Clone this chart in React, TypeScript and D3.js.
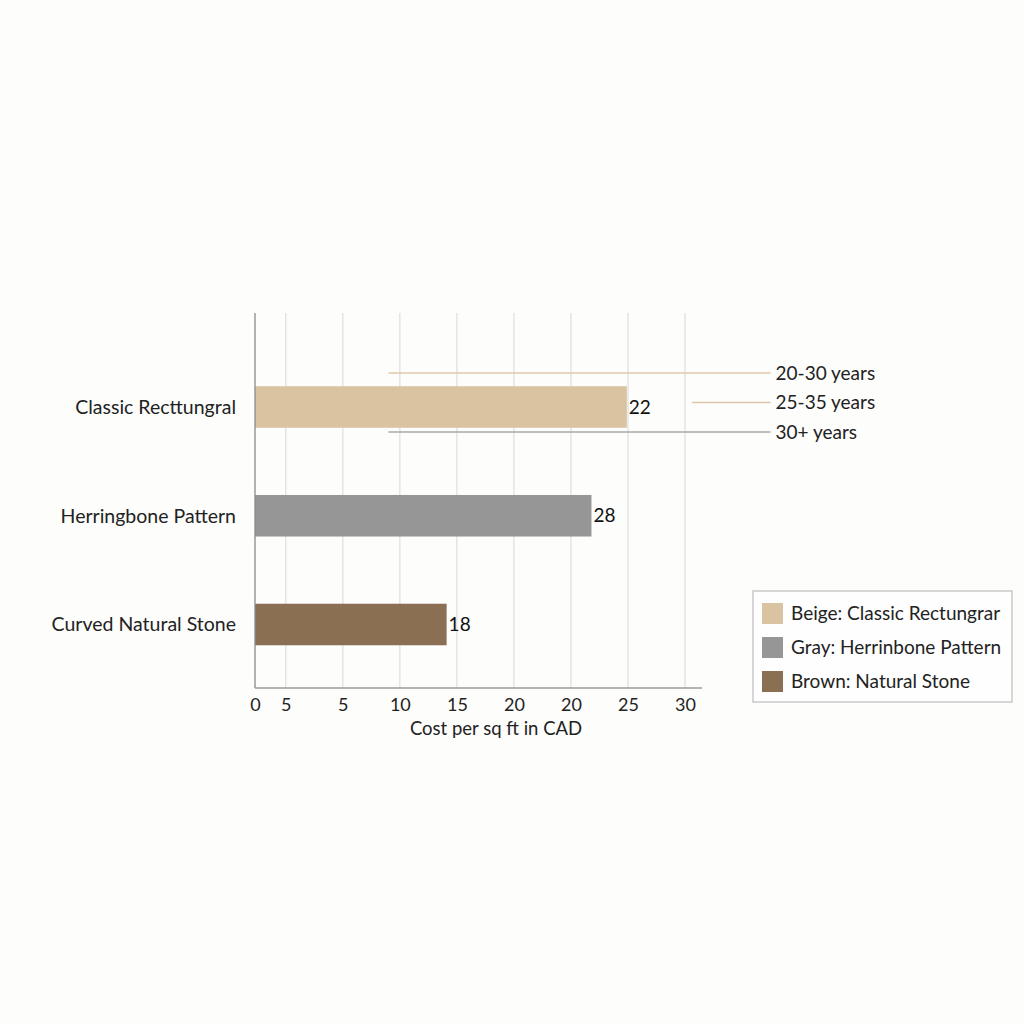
import * as d3 from "d3";
import React, { useRef, useEffect } from 'react'

// categories, bar lengths (axis units) and the printed value labels
const categories = ["Classic Recttungral", "Herringbone Pattern", "Curved Natural Stone"]
const barLengths = [32.6, 29.5, 16.8]
const barLabels = ["22", "28", "18"]
const barColors = ["#d9c3a1", "#969696", "#8b6f53"]

// axis ticks as printed on the picture
const tickValues = [0, 2.7, 7.7, 12.7, 17.7, 22.7, 27.7, 32.7, 37.7]
const tickLabels = ["0", "5", "5", "10", "15", "20", "20", "25", "30"]

// lifespan annotation lines: start/end in axis units
const spanLabels = ["20-30 years", "25-35 years", "30+ years"]
const spanStarts = [11.7, 38.3, 11.7]
const spanEnds = [45.2, 45.2, 45.2]
const spanColors = ["#dcc8a8", "#dcc8a8", "#a8a8a8"]

const legendLabels = ["Beige: Classic Rectungrar", "Gray: Herrinbone Pattern", "Brown: Natural Stone"]

const W = 1024, H = 1024
const m = { l: 255, r: 685, t: 313, b: 688 }
const FONT = "Lato, 'Open Sans', sans-serif"

const App: React.FC = () => {
  const gx = useRef<SVGGElement>(null)

  const x = d3.scaleLinear([0, 37.7], [m.l, m.r])
  const y = d3.scaleBand(categories, [353.6, 677.9]).paddingInner(0.618).paddingOuter(0.3)
  const spanY = d3.scalePoint(spanLabels, [373, 432])

  useEffect(() => {
    if (!gx.current) return
    const g = d3.select(gx.current)
    g.call(d3.axisBottom(x).tickValues(tickValues).tickSize(0).tickPadding(10)
      .tickFormat((_, i) => tickLabels[i]))
    g.select(".domain").remove()
    g.selectAll("text").attr("font-family", FONT).attr("font-size", 18).attr("fill", "#222")
  }, [])

  return (
    <svg width={W} height={H} style={{ position: "absolute", left: 0, top: 0, background: "#fdfdfc" }}>
      <rect width={W} height={H} fill="#fdfdfc" />
      {tickValues.slice(1).map((t, i) => (
        <line key={"g" + i} x1={x(t)} x2={x(t)} y1={m.t} y2={m.b} stroke="#dedede" strokeWidth={1.2} />
      ))}
      {spanLabels.map((s, i) => (
        <g key={s}>
          <line x1={x(spanStarts[i])} x2={x(spanEnds[i])} y1={spanY(s)} y2={spanY(s)} stroke={spanColors[i]} strokeWidth={1.6} />
          <text x={x(spanEnds[i]) + 5} y={spanY(s)} dy="0.35em" fontFamily={FONT} fontSize={19} fill="#222">{s}</text>
        </g>
      ))}
      {categories.map((c, i) => (
        <g key={c}>
          <rect x={x(0)} y={y(c)} width={x(barLengths[i]) - x(0)} height={y.bandwidth()} fill={barColors[i]} />
          <text x={x(barLengths[i]) + 2} y={(y(c) ?? 0) + y.bandwidth() / 2} dy="0.35em" fontFamily={FONT} fontSize={19} fill="#111">{barLabels[i]}</text>
          <text x={236} y={(y(c) ?? 0) + y.bandwidth() / 2} dy="0.35em" textAnchor="end" fontFamily={FONT} fontSize={19.5} fill="#222">{c}</text>
        </g>
      ))}
      <line x1={m.l} x2={m.l} y1={m.t} y2={m.b} stroke="#8a8a8a" strokeWidth={1.3} />
      <line x1={m.l} x2={702} y1={m.b} y2={m.b} stroke="#9a9a9a" strokeWidth={1.3} />
      <g ref={gx} transform={`translate(0, ${m.b})`} />
      <text x={496} y={729} dy="0.35em" textAnchor="middle" fontFamily={FONT} fontSize={18.5} fill="#222">Cost per sq ft in CAD</text>
      <g transform="translate(753, 591)">
        <rect width={259} height={111} fill="#fefefe" stroke="#bdbdbd" strokeWidth={1.2} />
        {legendLabels.map((l, i) => (
          <g key={l} transform={`translate(9, ${12 + i * 34})`}>
            <rect width={21} height={21} fill={barColors[i]} />
            <text x={29} y={10.5} dy="0.35em" fontFamily={FONT} fontSize={19} fill="#222">{l}</text>
          </g>
        ))}
      </g>
    </svg>
  )
}

export default App
